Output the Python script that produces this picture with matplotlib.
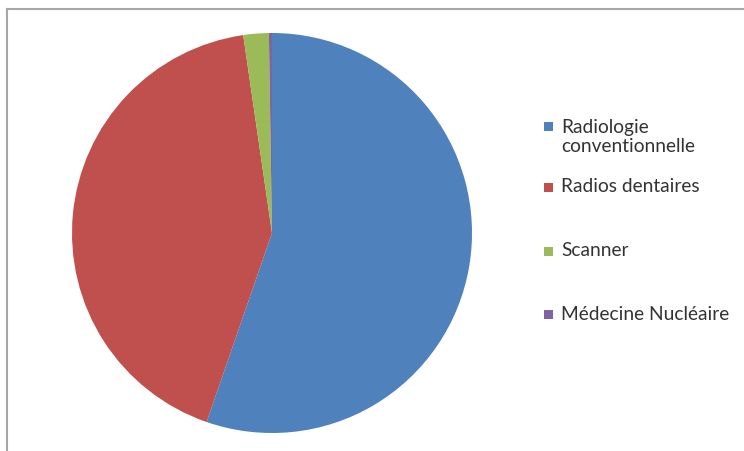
import matplotlib
matplotlib.use("Agg")
import matplotlib.pyplot as plt
from matplotlib.patches import Rectangle
from matplotlib.lines import Line2D

categories = ["Radiologie\nconventionnelle", "Radios dentaires", "Scanner", "Médecine Nucléaire"]
values = [55.3, 42.4, 2.05, 0.25]
colors = ["#4F81BD", "#C0504D", "#9BBB59", "#8064A2"]

W, H = 744, 451
fig = plt.figure(figsize=(W / 100, H / 100), dpi=100)
fig.patch.set_facecolor("white")

# pie axes: center (272,233), radius 200 px
cx, cy, r = 272, 233, 200
ax = fig.add_axes([(cx - r) / W, (H - cy - r) / H, 2 * r / W, 2 * r / H])
ax.pie(values, colors=colors, startangle=90, counterclock=False,
       wedgeprops=dict(linewidth=0))
ax.set_xlim(-1, 1)
ax.set_ylim(-1, 1)
ax.set_aspect("auto")
ax.axis("off")

# frame lines (top and left)
fig.add_artist(Line2D([7 / W, 1], [1 - 9 / H, 1 - 9 / H], transform=fig.transFigure,
                      color="#A6A6A6", lw=1.5))
fig.add_artist(Line2D([7 / W, 7 / W], [0, 1 - 9 / H], transform=fig.transFigure,
                      color="#A6A6A6", lw=1.5))

# legend
ys = [137, 187, 251, 314]
sq = 9
for lab, col, y in zip(categories, colors, ys):
    fig.add_artist(Rectangle(((548 - sq / 2) / W, 1 - (y + (-10 if '\n' in lab else 0) + sq / 2) / H),
                             sq / W, sq / H, transform=fig.transFigure,
                             facecolor=col, edgecolor="none"))
    fig.text(561 / W, 1 - y / H, lab, ha="left", va="center", fontsize=13.8,
             family="Lato", color="#333333", linespacing=1.2)

fig.savefig("out.png", dpi=100)
